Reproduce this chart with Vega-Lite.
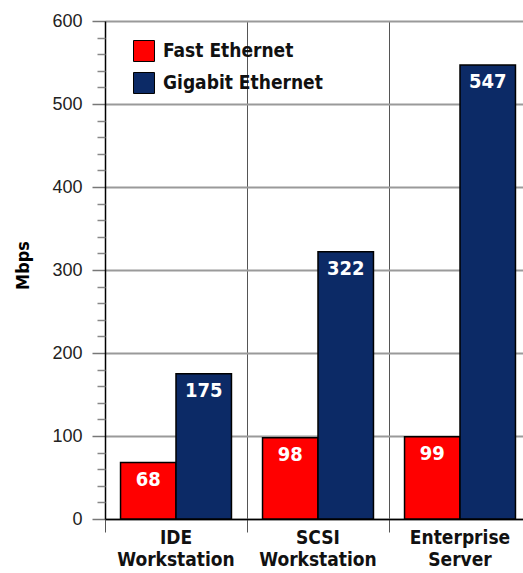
{
  "$schema": "https://vega.github.io/schema/vega-lite/v6.json",
  "width": 418,
  "height": 498,
  "autosize": {"type": "none"},
  "padding": {"left": 105, "top": 21, "right": 0, "bottom": 54},
  "background": "white",
  "config": {"view": {"stroke": null}},
  "data": {
    "values": [
      {"config": "IDE Workstation", "type": "Fast Ethernet", "mbps": 68},
      {"config": "IDE Workstation", "type": "Gigabit Ethernet", "mbps": 175},
      {"config": "SCSI Workstation", "type": "Fast Ethernet", "mbps": 98},
      {"config": "SCSI Workstation", "type": "Gigabit Ethernet", "mbps": 322},
      {"config": "Enterprise Server", "type": "Fast Ethernet", "mbps": 99},
      {"config": "Enterprise Server", "type": "Gigabit Ethernet", "mbps": 547}
    ]
  },
  "encoding": {
    "x": {
      "field": "config",
      "type": "nominal",
      "sort": ["IDE Workstation", "SCSI Workstation", "Enterprise Server"],
      "scale": {"range": [0, 426], "paddingInner": 0, "paddingOuter": 0},
      "axis": {
        "title": null,
        "bandPosition": 0,
        "grid": true,
        "gridColor": "#555555",
        "gridWidth": 1,
        "gridOpacity": 1,
        "ticks": true,
        "tickSize": 13,
        "tickColor": "#555555",
        "tickWidth": 1,
        "domain": true,
        "domainColor": "#000000",
        "domainWidth": 1.5,
        "labelAngle": 0,
        "labelAlign": "center",
        "labelBaseline": "top",
        "labelPadding": -4,
        "labelExpr": "split(datum.label, ' ')",
        "labelFont": "DejaVu Sans Condensed",
        "labelFontWeight": "bold",
        "labelFontSize": 19,
        "labelLineHeight": 22,
        "labelColor": "#111111"
      }
    },
    "xOffset": {
      "field": "type",
      "type": "nominal",
      "sort": ["Fast Ethernet", "Gigabit Ethernet"],
      "scale": {"paddingInner": 0, "paddingOuter": 0.28}
    }
  },
  "layer": [
    {
      "mark": {"type": "bar", "stroke": "#000000", "strokeWidth": 1.5},
      "encoding": {
        "y": {
          "field": "mbps",
          "type": "quantitative",
          "scale": {"domain": [0, 600], "nice": false},
          "axis": {
            "title": "Mbps",
            "titleFont": "DejaVu Sans Condensed",
            "titleFontWeight": "bold",
            "titleFontSize": 18,
            "titleColor": "#000000",
            "titleX": -82,
            "titleY": 244,
            "titleAngle": -90,
            "titleAlign": "center",
            "titleBaseline": "middle",
            "values": [0, 100, 200, 300, 400, 500, 600],
            "grid": true,
            "gridColor": "#9a9a9a",
            "gridWidth": 2,
            "gridOpacity": 1,
            "tickSize": 13,
            "tickColor": "#777777",
            "tickWidth": 1.5,
            "domainColor": "#000000",
            "domainWidth": 1.5,
            "labelFont": "Liberation Sans",
            "labelFontSize": 18,
            "labelColor": "#222222",
            "labelPadding": 10
          }
        },
        "color": {
          "field": "type",
          "type": "nominal",
          "scale": {"domain": ["Fast Ethernet", "Gigabit Ethernet"], "range": ["#ff0000", "#0c2a66"]},
          "legend": {
            "title": null,
            "orient": "none",
            "legendX": 28,
            "legendY": 19,
            "symbolType": "square",
            "symbolSize": 440,
            "symbolStrokeColor": "#000000",
            "symbolStrokeWidth": 1,
            "symbolOpacity": 1,
            "labelFont": "DejaVu Sans Condensed",
            "labelFontWeight": "bold",
            "labelFontSize": 19,
            "labelLimit": 400,
            "labelColor": "#111111",
            "labelOffset": 8,
            "rowPadding": 6,
            "padding": 0
          }
        }
      }
    },
    {
      "mark": {
        "type": "text",
        "baseline": "alphabetic",
        "dy": 23,
        "color": "#ffffff",
        "font": "DejaVu Sans Condensed",
        "fontWeight": "bold",
        "fontSize": 20
      },
      "encoding": {
        "y": {"field": "mbps", "type": "quantitative", "axis": null},
        "text": {"field": "mbps", "type": "quantitative"}
      }
    },
    {
      "mark": {"type": "tick", "opacity": 0},
      "encoding": {
        "y": {
          "field": "mbps",
          "type": "quantitative",
          "axis": {
            "orient": "left",
            "title": null,
            "values": [20, 40, 60, 80, 120, 140, 160, 180, 220, 240, 260, 280, 320, 340, 360, 380, 420, 440, 460, 480, 520, 540, 560, 580],
            "labels": false,
            "domain": false,
            "grid": false,
            "tickSize": 8,
            "tickColor": "#888888",
            "tickWidth": 1.5
          }
        }
      }
    }
  ],
  "resolve": {"axis": {"y": "independent"}}
}
